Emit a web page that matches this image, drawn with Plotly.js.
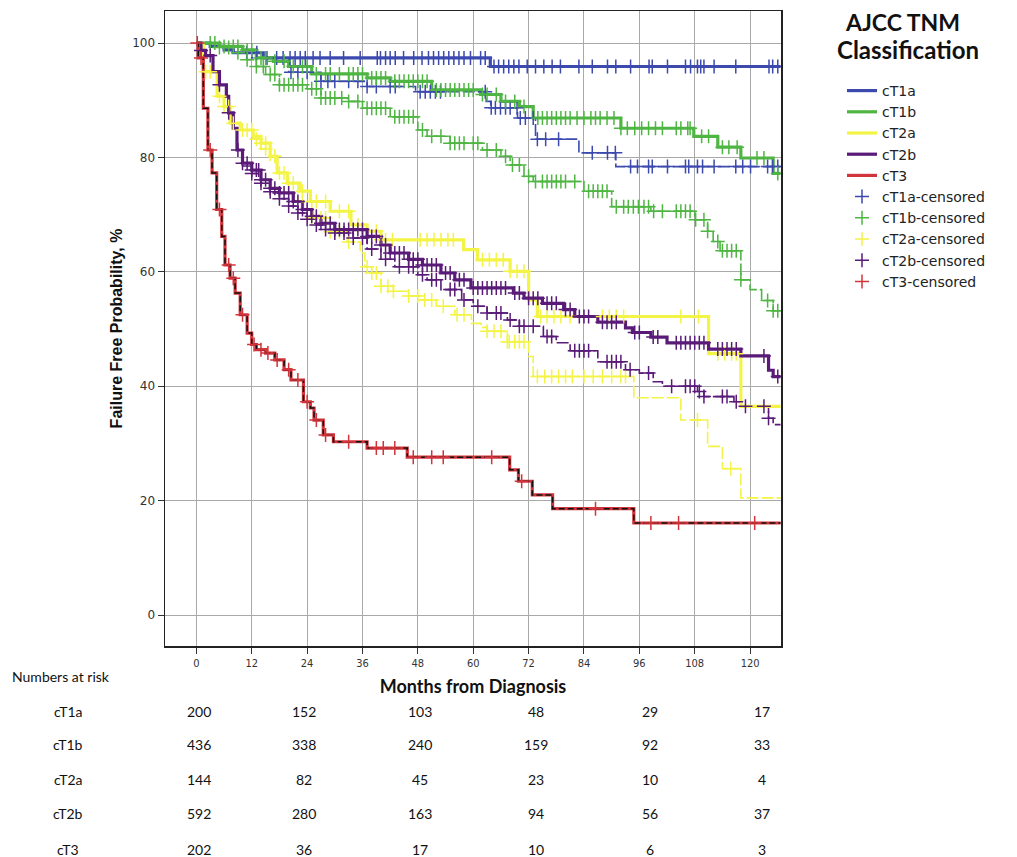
<!DOCTYPE html>
<html><head><meta charset="utf-8">
<script src="https://cdn.plot.ly/plotly-3.0.1.min.js"></script>
<style>html,body{margin:0;padding:0;background:#fff}</style>
</head><body><div id="chart" style="width:1017px;height:857px"></div>
<script>
// ---------------- DATA ----------------
const groups = ['cT1a','cT1b','cT2a','cT2b','cT3'];
const followUpEnd = 126.6;

// Kaplan-Meier steps: time (months) at which each level starts, and level (%)
const cT1a_t = [0,3,6,8,14.5,63.7];
const cT1a_s = [100,99.4,98.8,98.3,97.4,95.9];
const cT1a2_t = [0,3,6,8,12,20,27,37,47.5,62.8,63.8,69.6,73.5,82.9,90.9];
const cT1a2_s = [100,99.4,98.8,98.3,97.4,94.9,93.3,92.4,91.5,89.8,88.7,86.9,83.2,80.8,78.4];

const cT1b_t = [0,5,10,13,16.7,20,25,37,42,51,61.6,66,70,73,92,107.8,113,118,125];
const cT1b_s = [100,99.4,98.8,97.4,96.8,95.9,94.6,93.9,93.3,91.8,91.0,89.8,88.9,86.9,85.1,83.7,81.8,79.9,77.2];
const cT1b2_t = [0,5,8,11,13,15,18,24,27,32.7,36,42,48,50,55,62,66,68,71,73,84,90,98.5,108,110.8,112,113.5,118,120,122.5,125];
const cT1b2_s = [100,99.2,98.3,97.1,95.9,94.5,92.7,92.0,90.4,89.8,88.6,87.1,84.8,83.7,82.5,81.3,80.2,78.7,76.7,75.8,74.1,71.4,70.6,69.1,67.1,65.3,63.7,58.6,56.9,55.0,53.2];

const cT2a_t = [0,1.5,4.5,6,7.3,9.5,12.3,14,16,17.5,19.7,22.5,24.7,29,33.5,37,40,57.9,60.9,68,72,73.9,111,118];
const cT2a_s = [100,95,90.7,88.9,86,84.8,83.7,82.5,80.2,77.3,75.5,74.1,72.3,70.6,68.2,67.1,65.6,63.9,62.1,60.1,55.1,52.2,45.7,36.5];
const cT2a2_t = [0,1.5,4.5,6,7.3,9.5,12.3,14,16,17.5,19.7,22,25,29,32.7,35.5,36.5,38,40,42.7,46,48.5,52,56,59.6,61.7,63,67.4,72,73,94.8,105,110.8,114,118];
const cT2a2_s = [100,95,90.7,88.9,86,84.8,83.2,81.5,79.5,77.3,75.5,72.3,69.4,67.0,65.2,63.3,60.9,59.8,57.5,56.6,55.8,55.1,54.0,52.5,51.0,50.3,49.6,47.8,45.2,41.7,38.0,34.1,29.5,25.6,20.5];

const cT2b_t = [0,1,2,3.6,5,6.5,7,8,8.8,10,12,14,16,18,21,23,25,27,30,37,40,42,46,49,53,56,59.5,68.7,71,75,79.6,82,87,93,94.5,98.5,102,111,118,124,125];
const cT2b_s = [100,98.7,97.8,95,92.7,90.7,87.8,85.1,81.3,79,77.8,76.1,74.6,73.8,72.3,70.9,69.7,68.5,67.4,66.2,64.7,63.3,62.2,61.2,59.8,58.6,57.2,56.3,55.4,54.5,53.4,52.2,51.2,50.2,49.4,48.6,47.6,46.5,45.3,42.8,41.7];
const cT2b2_t = [0,1,2,3.6,5,6.5,7,8,8.8,10,12,14,16,18,20,22,24,26,28,30,34,37,40,43,48,50,53,57.5,60,63,67.4,70,75.2,78,81,87,93,96,99,101,108.6,110,116.5,118,124,125];
const cT2b2_s = [100,98.7,97.8,95,92.7,90.7,87.8,85.1,81.3,78.5,77.2,75.5,74.0,72.8,71.5,70.3,69.2,68.2,67.4,66.8,65.9,64.0,62.2,60.9,59.5,58.6,56.9,55.1,54.0,52.8,51.6,50.5,48.7,47.6,46.2,44.3,42.9,42.3,40.8,40.0,39.1,38.2,37.3,36.5,34.4,33.3];

const cT3_t = [0,0.4,1.5,2.5,3.4,4.4,5.5,6.2,7.3,8.4,9.5,11,12,13,15,17,19,20.5,23.2,24.7,25.5,27.5,29.7,37,45.7,67.9,69.8,72.8,77.2,94.8];
const cT3_s = [100,97.4,88.6,81.3,77.3,70.9,66.2,61.2,58.9,56.3,52.5,49.3,47.3,46.4,45.8,44.6,42.9,41.1,37.3,36.2,34.1,31.5,30.3,29.2,27.6,25.4,23.4,21.0,18.6,16.1];

// censored observation times (months)
const cT1a_cens = [10.9,13.1,15.3,17.4,18.8,20.3,21.4,22.5,23.6,25.3,26.8,29,31.9,35.5,39.2,39.9,41,42,43.1,44.9,47.1,48.9,50.3,51.4,52.5,53.6,54.7,55.8,56.9,58,59.4,61.6,62.6,64.5,65.5,66.6,67.7,68.8,69.9,71.7,73.5,75.3,77.1,78.9,82.9,85.8,89.1,90.9,94.1,98.1,98.8,102.1,106,107.1,108.6,109.3,110,112.2,116.9,124.1,124.9,126];
const cT1a2_cens = [20.5,22,24,27,28.5,30,33,35,37,39,42,43.1,48.5,49.6,50.7,51.8,52.9,62.6,63.9,64.8,65.9,67,68,69.5,70.2,71.3,73,73.9,75.7,78.5,85.8,89.1,90.8,94.1,95.6,98,98.8,102.1,106,106.7,108.6,109.7,112.2,116.9,118.4,120.1,123.8,124.9,126];
const cT1b_cens = [4,6,8,9,11,12,14,15,17,19,21,23,24,26,28,29,31,33,34,35,36,38,39,40,41,43,44,45,46,47,48,49,50,52,53,54,55,56,57,58,59,60,62,63,65,67,69,71,74,75,76,77,78,79,80,81,82.5,84,85.5,86.5,87.5,89,90.5,92,93.4,95,96.5,98,99.5,101,104,105,106.5,107,109.5,111,114,115.4,117.2,121.5,123,126];
const cT1b2_cens = [3,5,7,9,11,13,14.5,16,17,18,19,20,21,22,23,25,26,27,28,29,30,31.5,33,35,37,38,39,40,41,43,44,45,46,47,49,51,53,55,56,57,58,60,61,63,65,67,68.5,70,72,73.5,75,76,77,78,79,80,82,85,86,87,88,89,91,92.6,93.6,94.7,95.8,97,98,99.1,101,104,105,106,107,108.2,110,110.8,113,114,115,116,117,118,123.8,125,126];
const cT2a_cens = [2,6,8,10,12,14,15,17,19,21,23,26,28,31,33,35,39,40,41,42.5,48.5,50,51.5,53,54.5,55.7,62,63.5,65,66.5,68,69.5,71,74.6,76,77.5,79,81,88,89.5,91,92.6,105,108.8,113,114.5,116,117];
const cT2a2_cens = [3,5,7,11,13,15,18,20,23,25,26,27,28,29,31,33,37,38,39,40,41.5,42.7,46,48,49.5,51,53.5,56.5,58,63,64.5,66,67.4,67.8,69,70,71,73.9,75.5,77,78.5,80,81.5,84,86,88,90,92,93,108.6,115.8];
const cT2b_cens = [1,3,5,7,9,10,11,12,13,13.5,14,15,16,17,18,19,20,21,22,23,24,25,26,27,28,29,30,31,32,33,34,35,36,37,38,39,40,41,42,43,44,45,46,47,48,49,50,51,52,54,55,57,58,60,61,62,63,64,65,66,67,69,70,72,73,74,76,77,78,80,81,83,84,85,88,89,90,91,95,96,99,100,104,105,106,107,108,109,110,113,114,115,116,117,123,126];
const cT2b2_cens = [12,14,16,18,20,22,24,26,28,30,32,34,36,38,41,44,46,47,49,51,52,55,56,58,61,63,65,66,68,70,71,73,76,77,82,83,84,85,89,90,91,92,94,98,103,106,107,108,109,110,114,115,117,119,123,124];
const cT3_cens = [0.2,1,3,5,7,8,10,12.5,14,15.5,17.5,20,22,24,26,28,33,39,40.5,43,47,51,53.5,64,70.5,86.5,98.5,104.5,121];

// Numbers at risk
const riskTimes = [0,24,48,72,96,120];
const atRisk_cT1a = [200,152,103,48,29,17];
const atRisk_cT1b = [436,338,240,159,92,33];
const atRisk_cT2a = [144,82,45,23,10,4];
const atRisk_cT2b = [592,280,163,94,56,37];
const atRisk_cT3  = [202,36,17,10,6,3];

// ---------------- STYLE ----------------
const colors = {cT1a:'#3c4aae', cT1b:'#4fb543', cT2a:'#f3f446', cT2b:'#5a1a78', cT3:'#d1343b'};

function stepAt(t, s, x){ let v = s[0]; for (let i=0;i<t.length;i++){ if (t[i] <= x) v = s[i]; else break; } return v; }
function ext(t){ return t.concat([followUpEnd]); }
function exts(s){ return s.concat([s[s.length-1]]); }

const main = {
  cT1a:[cT1a_t,cT1a_s,cT1a_cens], cT1b:[cT1b_t,cT1b_s,cT1b_cens], cT2a:[cT2a_t,cT2a_s,cT2a_cens],
  cT2b:[cT2b_t,cT2b_s,cT2b_cens], cT3:[cT3_t,cT3_s,cT3_cens]
};
const second = {
  cT1a:[cT1a2_t,cT1a2_s,cT1a2_cens], cT1b:[cT1b2_t,cT1b2_s,cT1b2_cens], cT2a:[cT2a2_t,cT2a2_s,cT2a2_cens],
  cT2b:[cT2b2_t,cT2b2_s,cT2b2_cens]
};

const traces = [];
// secondary curves (beneath)
groups.forEach(g => {
  if (!second[g]) return;
  const [t,s] = second[g];
  traces.push({x:ext(t), y:exts(s), type:'scatter', mode:'lines', line:{shape:'hv', color:colors[g], width:1.6, dash:'12px,3px'}, showlegend:false, hoverinfo:'skip'});
});
// main curves
groups.forEach(g => {
  const [t,s] = main[g];
  traces.push({x:ext(t), y:exts(s), type:'scatter', mode:'lines', name:g, line:{shape:'hv', color:colors[g], width:3.2}, legendrank: groups.indexOf(g)+1});
  if (g === 'cT3') {
    traces.push({x:ext(t), y:exts(s), type:'scatter', mode:'lines', line:{shape:'hv', color:'#111', width:1.5, dash:'6px,3px'}, showlegend:false, hoverinfo:'skip'});
  }
});
// censored marks
groups.forEach(g => {
  const [t,s,c] = main[g];
  let xs = c.slice(), ys = c.map(v => stepAt(t,s,v));
  if (second[g]) {
    const [t2,s2,c2] = second[g];
    xs = xs.concat(c2); ys = ys.concat(c2.map(v => stepAt(t2,s2,v)));
  }
  traces.push({x:xs, y:ys, type:'scatter', mode:'markers', name:g+'-censored',
    marker:{symbol:'cross-thin', size:10, color:colors[g], line:{color:colors[g], width:1.5}}, legendrank: 10+groups.indexOf(g)});
});

// ---------------- LAYOUT ----------------
const L = 165, T = 11, PW = 616, PH = 635;
const px = x => (x - L) / PW;
const py = y => (T + PH - y) / PH;

const annotations = [];
annotations.push({xref:'paper', yref:'paper', x:px(902), y:py(22), text:'<b>AJCC TNM</b>', showarrow:false, xanchor:'center', yanchor:'middle', font:{family:'Lato', size:23, color:'#111'}});
annotations.push({xref:'paper', yref:'paper', x:px(908), y:py(50), text:'<b>Classification</b>', showarrow:false, xanchor:'center', yanchor:'middle', font:{family:'Lato', size:24, color:'#111'}});
annotations.push({xref:'paper', yref:'paper', x:px(10), y:py(676), text:'Numbers at risk', showarrow:false, xanchor:'left', yanchor:'middle', font:{family:'Lato', size:14, color:'#111'}});

const riskRows = [atRisk_cT1a, atRisk_cT1b, atRisk_cT2a, atRisk_cT2b, atRisk_cT3];
const rowY = [711, 745, 779, 813, 849];
const colX = [199, 304, 420, 536, 650, 762];
riskRows.forEach((row, r) => {
  annotations.push({xref:'paper', yref:'paper', x:px(68), y:py(rowY[r]), text:groups[r], showarrow:false, xanchor:'center', yanchor:'middle', font:{family:'Lato', size:14, color:'#111'}});
  row.forEach((v, c) => {
    annotations.push({xref:'paper', yref:'paper', x:px(colX[c]), y:py(rowY[r]), text:String(v), showarrow:false, xanchor:'center', yanchor:'middle', font:{family:'Lato', size:14, color:'#111'}});
  });
});

const axisCommon = {showgrid:true, gridcolor:'#a9a9a9', gridwidth:1, zeroline:false, showline:true, linecolor:'#222', linewidth:1.5, mirror:true, ticks:'outside', ticklen:6, tickcolor:'#333', tickwidth:1};

const layout = {
  width:1017, height:857,
  margin:{l:L, r:1017-L-PW, t:T, b:857-T-PH, pad:0},
  paper_bgcolor:'#fff', plot_bgcolor:'#fff',
  showlegend:true,
  legend:{x:px(842), xanchor:'left', y:py(75), yanchor:'top', font:{family:'DejaVu Sans', size:14, color:'#222'}, bgcolor:'rgba(0,0,0,0)', tracegroupgap:0, itemwidth:30, traceorder:'normal'},
  xaxis:Object.assign({}, axisCommon, {range:[-6.8,126.7], tickvals:[0,12,24,36,48,60,72,84,96,108,120],
    tickfont:{family:'DejaVu Sans Condensed, DejaVu Sans', size:11, color:'#333'},
    title:{text:'<b>Months from Diagnosis</b>', font:{family:'Lato', size:18, color:'#111'}, standoff:11}}),
  yaxis:Object.assign({}, axisCommon, {range:[-5.4,105.6], tickvals:[0,20,40,60,80,100],
    tickfont:{family:'DejaVu Sans', size:12, color:'#333'},
    title:{text:'<b>Failure Free Probability, %</b>', font:{family:'Liberation Sans', size:16, color:'#111'}, standoff:5}}),
  annotations:annotations
};

Plotly.newPlot('chart', traces, layout, {displayModeBar:false, staticPlot:true});
</script>
</body></html>
